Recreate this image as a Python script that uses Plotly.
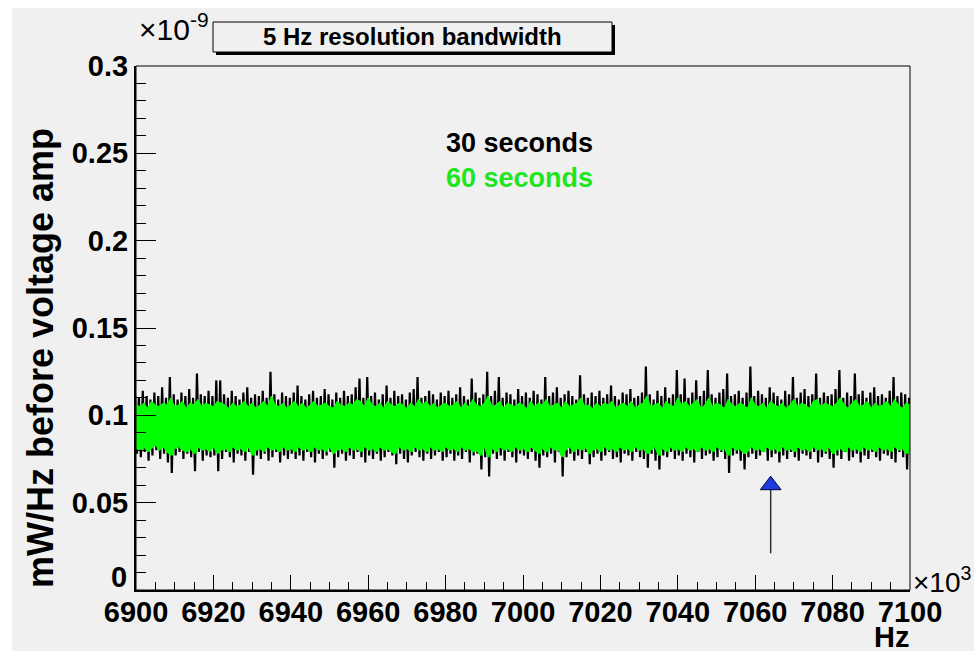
import plotly.graph_objects as go

# ---------------- data (power density in units of 1e-12 mW/Hz) ----------------
freq_start_hz = 6900
freq_step_hz = 1
n_bins = 201

black_hi = [112,110,114,111,109,113,111,116,110,122,112,109,113,111,115,110,124,112,111,114,
            111,120,120,112,110,114,111,109,113,116,110,112,111,114,110,125,112,109,113,111,
            110,113,117,111,109,112,114,110,111,115,112,109,113,110,114,111,112,116,121,110,
            122,111,113,109,112,117,110,114,111,112,109,113,115,122,110,111,114,112,109,113,
            111,114,110,112,116,111,109,121,113,110,112,125,111,114,122,110,113,112,109,115,
            111,113,110,114,112,109,122,111,113,116,110,112,114,111,109,123,112,110,113,111,
            114,110,112,117,111,109,113,112,115,110,111,113,128,112,109,114,111,116,110,112,
            126,112,121,110,113,120,111,114,126,112,110,113,115,124,111,112,114,110,113,128,
            111,114,112,110,116,113,111,109,114,112,122,110,113,115,111,112,124,110,113,111,
            112,115,126,110,113,111,124,112,114,110,113,116,111,112,110,114,122,111,113,112,110]

black_lo = [78,76,79,74,77,80,75,78,73,67,77,79,75,78,76,68,79,74,77,76,
            77,68,75,79,76,73,78,77,74,79,66,77,75,78,74,76,79,73,77,75,
            78,75,77,74,79,76,73,78,75,77,79,70,76,78,74,77,75,79,76,73,
            77,75,78,74,76,79,77,72,78,75,73,77,79,76,74,78,75,77,79,74,
            76,78,74,77,75,79,73,77,78,69,76,65,78,75,77,74,79,76,73,78,
            77,75,79,74,70,77,76,78,73,79,65,76,78,74,77,75,79,72,76,78,
            74,77,79,75,76,73,78,77,74,79,76,75,70,78,74,69,77,76,79,75,
            77,74,78,76,73,79,75,77,78,74,76,79,75,67,77,78,74,69,76,78,
            75,77,79,74,76,78,73,77,75,79,76,74,78,77,75,79,73,76,78,75,
            70,77,75,79,74,76,78,73,77,75,79,76,74,78,77,75,73,79,76,69,77]

green_hi = [106,105,107,104,108,106,105,107,106,110,105,106,108,104,107,106,109,105,107,106,
            105,108,107,106,104,107,105,106,108,105,107,104,106,108,105,111,106,105,107,104,
            106,108,105,107,104,106,108,105,106,107,105,104,108,106,105,107,106,109,108,105,
            110,106,105,107,104,108,106,105,107,106,104,107,105,109,106,108,105,107,104,106,
            107,105,106,108,104,107,105,109,106,105,107,111,105,106,108,104,107,106,105,107,
            106,104,108,105,107,106,109,105,106,107,104,108,105,106,107,110,105,106,104,107,
            105,107,106,108,104,106,107,105,108,104,106,107,111,105,106,107,104,108,106,105,
            110,106,108,105,107,109,104,106,110,105,107,106,104,109,106,105,107,106,104,110,
            106,105,107,104,108,106,105,107,104,106,109,105,107,106,104,108,109,105,107,106,
            105,107,110,106,104,107,109,105,106,108,104,107,105,106,108,105,109,106,104,107,106]

green_lo = [81,80,82,79,81,83,80,82,79,77,81,82,80,79,81,78,82,80,81,79,
            82,78,80,81,79,82,80,81,79,82,77,80,81,79,82,80,81,79,82,80,
            81,79,82,80,81,79,82,80,81,79,82,78,80,81,79,82,80,81,79,82,
            80,81,79,82,80,81,79,78,82,80,81,79,82,80,81,79,82,80,81,79,
            82,80,81,79,82,80,81,79,80,77,82,76,81,79,82,80,81,79,82,80,
            81,79,82,80,78,81,79,82,80,81,76,80,82,79,81,80,82,78,80,81,
            79,82,80,81,79,82,80,81,79,82,80,81,78,80,82,77,81,79,82,80,
            81,79,82,80,81,79,82,80,81,79,82,80,81,77,82,80,81,78,79,82,
            80,81,79,82,80,81,79,82,80,81,79,82,80,81,79,82,80,81,79,82,
            78,80,81,79,82,80,81,79,82,80,81,79,82,80,81,79,82,80,81,78,80]

arrow_hz = 7064
arrow_tail = 21
arrow_head = 60

x_tick_vals = [6900, 6920, 6940, 6960, 6980, 7000, 7020, 7040, 7060, 7080, 7100]
x_tick_text = ["6900", "6920", "6940", "6960", "6980", "7000", "7020", "7040", "7060", "7080", "7100"]
y_tick_vals = [0, 0.05, 0.1, 0.15, 0.2, 0.25, 0.3]
y_tick_text = ["0", "0.05", "0.1", "0.15", "0.2", "0.25", "0.3"]

series_labels = ["30 seconds", "60 seconds"]
box_label = "5 Hz resolution bandwidth"
y_title = "mW/Hz before voltage amp"
x_title = "Hz"

# ---------------- build traces ----------------
SCALE = 1000.0  # 1e-12 -> 1e-9 axis units
freqs = [freq_start_hz + i * freq_step_hz for i in range(n_bins)]

bx, by = [], []
for f, h, l in zip(freqs, black_hi, black_lo):
    bx += [f - 0.25, f + 0.25]
    by += [h / SCALE, l / SCALE]

gx, gy = [], []
for f, h, l in zip(freqs, green_hi, green_lo):
    gx += [f, f + 0.5]
    gy += [h / SCALE, l / SCALE]

poly_x = freqs + freqs[::-1]
poly_y = [v / SCALE for v in green_hi] + [v / SCALE for v in green_lo[::-1]]

GREEN = "#00ff00"
BG = "#f0f0f0"
FONT = "Liberation Sans"

fig = go.Figure()
fig.add_trace(go.Scatter(x=bx, y=by, mode="lines", line=dict(color="#000000", width=2.2),
                         hoverinfo="skip", showlegend=False))
fig.add_trace(go.Scatter(x=poly_x, y=poly_y, mode="lines", fill="toself", fillcolor=GREEN,
                         line=dict(color=GREEN, width=1), hoverinfo="skip", showlegend=False))
fig.add_trace(go.Scatter(x=gx, y=gy, mode="lines", line=dict(color=GREEN, width=1),
                         hoverinfo="skip", showlegend=False))
fig.add_trace(go.Scatter(x=[arrow_hz, arrow_hz], y=[arrow_tail / SCALE, arrow_head / SCALE],
                         mode="lines", line=dict(color="#333333", width=1.5),
                         hoverinfo="skip", showlegend=False))
fig.add_trace(go.Scatter(x=[arrow_hz], y=[arrow_head / SCALE], mode="markers",
                         marker=dict(symbol="triangle-up", size=18, color="#1d3ce0",
                                     line=dict(color="#000040", width=1)),
                         hoverinfo="skip", showlegend=False))

W, H = 974, 655
L, R, T, B = 136, 64, 66, 65
pw, ph = W - L - R, H - T - B


def px(xp):
    return (xp - L) / pw


def py(yp):
    return (H - B - yp) / ph


shapes = [
    # grey canvas panel
    dict(type="rect", xref="paper", yref="paper", x0=px(12), x1=px(974), y0=py(651), y1=py(8),
         fillcolor=BG, line=dict(width=0), layer="below"),
    # frame
    dict(type="rect", xref="paper", yref="paper", x0=0, x1=1, y0=0, y1=1,
         line=dict(color="black", width=1), layer="above"),
    # pave shadow
    dict(type="rect", xref="paper", yref="paper", x0=px(216), x1=px(615), y0=py(55), y1=py(25),
         fillcolor="black", line=dict(width=0)),
    # pave box
    dict(type="rect", xref="paper", yref="paper", x0=px(213), x1=px(612), y0=py(52), y1=py(22),
         fillcolor=BG, line=dict(color="black", width=1)),
]

tick_font = dict(family=FONT, size=29, color="black", weight="bold")

annotations = [
    dict(text=box_label, xref="paper", yref="paper", x=px(412), y=py(37), showarrow=False,
         xanchor="center", yanchor="middle", font=dict(family=FONT, size=24, color="black", weight="bold")),
    dict(text=series_labels[0], xref="paper", yref="paper", x=px(519), y=py(143), showarrow=False,
         xanchor="center", yanchor="middle", font=dict(family=FONT, size=27, color="black", weight="bold")),
    dict(text=series_labels[1], xref="paper", yref="paper", x=px(519), y=py(178), showarrow=False,
         xanchor="center", yanchor="middle", font=dict(family=FONT, size=27, color="#1ee61e", weight="bold")),
    dict(text="×10<sup>-9</sup>", xref="paper", yref="paper", x=px(137), y=py(27), showarrow=False,
         xanchor="left", yanchor="middle", font=dict(family=FONT, size=30, color="black")),
    dict(text="×10<sup>3</sup>", xref="paper", yref="paper", x=px(911), y=py(580), showarrow=False,
         xanchor="left", yanchor="middle", font=dict(family=FONT, size=28, color="black")),
    dict(text=x_title, xref="paper", yref="paper", x=px(911), y=py(637), showarrow=False,
         xanchor="right", yanchor="middle", font=dict(family=FONT, size=29, color="black", weight="bold")),
    dict(text=y_title, xref="paper", yref="paper", x=px(41), y=py(358), showarrow=False,
         textangle=-90, xanchor="center", yanchor="middle",
         font=dict(family=FONT, size=36, color="black", weight="bold")),
    # ROOT draws the "0" label raised above the x-axis labels
    dict(text=y_tick_text[0], xref="paper", yref="paper", x=px(129), y=py(577), showarrow=False,
         xanchor="right", yanchor="middle", font=tick_font),
]

fig.update_layout(
    width=W, height=H,
    margin=dict(l=L, r=R, t=T, b=B, pad=0),
    paper_bgcolor="white",
    plot_bgcolor=BG,
    showlegend=False,
    shapes=shapes,
    annotations=annotations,
    xaxis=dict(range=[6900, 7100], tickmode="array", tickvals=x_tick_vals, ticktext=x_tick_text,
               ticks="inside", ticklen=15, tickwidth=1, tickcolor="black",
               showline=True, linecolor="black", linewidth=2, showgrid=False, zeroline=False,
               ticklabelstandoff=-5,
               tickfont=tick_font,
               minor=dict(dtick=5, tick0=6900, ticks="inside", ticklen=8, tickcolor="black", showgrid=False)),
    yaxis=dict(range=[0, 0.3], tickmode="array", tickvals=y_tick_vals[1:], ticktext=y_tick_text[1:],
               ticks="inside", ticklen=20, tickwidth=1, tickcolor="black",
               showline=True, linecolor="black", linewidth=2, showgrid=False, zeroline=False,
               tickfont=tick_font,
               minor=dict(dtick=0.01, tick0=0, ticks="inside", ticklen=10, tickcolor="black", showgrid=False)),
)

fig.write_html("out.html")
